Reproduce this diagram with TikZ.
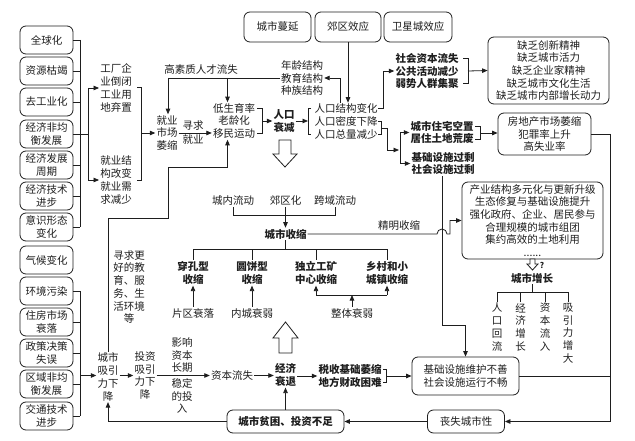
\documentclass[tikz,border=0pt]{standalone}
\usepackage{fontspec}
\setmainfont{Noto Sans CJK SC}
\usetikzlibrary{arrows.meta}
\definecolor{ink}{RGB}{30,30,30}
\begin{document}
\begin{tikzpicture}[x=1pt,y=-1pt,
  every node/.style={font=\fontsize{10.5}{12.7}\selectfont, text=ink, inner sep=1pt, align=center},
  box/.style={draw=ink, line width=0.8pt, rounded corners=6pt},
  lbox/.style={box, minimum width=53pt, minimum height=28pt},
  bt/.style={font=\fontsize{10.5}{12.7}\selectfont\bfseries},
  con/.style={draw=ink, line width=0.8pt},
  arr/.style={con, -{Triangle[length=5.5pt,width=4.5pt]}},
  hollow/.style={draw=ink, line width=0.8pt, fill=white}
]
\fill[white] (0,0) rectangle (635,441);
\useasboundingbox (0,0) rectangle (635,441);

% ---------- left column ----------
\node[lbox] (g1) at (46.5,40) {全球化};
\node[lbox] (g2) at (46.5,71) {资源枯竭};
\node[lbox] (g3) at (46.5,102) {去工业化};
\node[lbox] (g4) at (46.5,134) {经济非均\\衡发展};
\node[lbox] (g5) at (46.5,165) {经济发展\\周期};
\node[lbox] (g6) at (46.5,196) {经济技术\\进步};
\node[lbox] (g7) at (46.5,227) {意识形态\\变化};
\node[lbox] (g8) at (46.5,260) {气候变化};
\node[lbox] (g9) at (46.5,291) {环境污染};
\node[lbox] (g10) at (46.5,322) {住房市场\\衰落};
\node[lbox] (g11) at (46.5,353) {政策决策\\失误};
\node[lbox] (g12) at (46.5,384) {区域非均\\衡发展};
\node[lbox] (g13) at (46.5,416) {交通技术\\进步};

\coordinate (ba) at (80,134);
\coordinate (bb) at (88,134);
\foreach \n in {g1,g2,g3,g4,g5,g6,g7,g9,g10,g11,g12,g13}
  \draw[con] (\n.east) -- (\n.east -| ba);
\draw[con] (g1.east -| ba) -- (g7.east -| ba);
\draw[con] (ba) -- (bb);
\draw[con] (g9.east -| ba) -- (g13.east -| ba);

% ---------- employment ----------
\node (t1) at (116,88) {工厂企\\业倒闭\\工业用\\地弃置};
\node (t2) at (116,180) {就业结\\构改变\\就业需\\求减少};
\draw[con] (bb |- t1) -- (bb |- t2);
\draw[arr] (bb |- t1) -- (t1.west);
\draw[arr] (bb |- t2) -- (t2.west);
\draw[con] (137,87) -- (141,87) -- (141,180) -- (137,180);

\node (jy) at (167,133) {就业\\市场\\萎缩};
\draw[arr] (141,133) -- (jy.west);

\node (ds) at (234,121) {低生育率\\老龄化\\移民运动};
\draw[arr] (jy.east) -- (jy.east -| ds.west);
\node (xq1) at (193,125.5) {寻求};
\node (xq2) at (193,140) {就业};

\draw[con] (257,108.3) -- (262,108.3) -- (262,133.7) -- (257,133.7);
\node[bt] (rk) at (284,121) {人口\\衰减};
\draw[arr] (262,121) -- (rk.west);
\draw[arr] (rk.east) -- (308,121);
\draw[con] (311,108.8) -- (308,108.8) -- (308,134.2) -- (311,134.2);

\node (rs) at (346,121.5) {人口结构变化\\人口密度下降\\人口总量减少};

% top boxes
\node[box, minimum width=67pt, minimum height=30pt] (tm) at (277.5,27) {城市蔓延};
\node[box, minimum width=66pt, minimum height=30pt] (jq) at (348,27) {郊区效应};
\node[box, minimum width=68pt, minimum height=30pt] (wx) at (418,27) {卫星城效应};
\draw[arr] (jq.south) -- (jq.south |- rs.north);

\node (nj) at (302,78) {年龄结构\\教育结构\\种族结构};
\coordinate (p340) at (340,78);
\draw[arr] (p340 |- rs.north) -- (p340) -- (nj.east);

\node (hr) at (201,70) {高素质人才流失};
\coordinate (p168) at (168,78);
\coordinate (p228) at (227.5,78);
\draw[con] (nj.west) -- (p168);
\draw[arr] (p168) -- (p168 |- jy.north);
\draw[arr] (p228) -- (p228 |- ds.north);

% lower feedback to ds
\node (cs) at (108,377) {城市\\吸引\\力下\\降};
\draw[arr] (cs.north) |- (168,218) |- (227.5,167) -- (p228 |- ds.south);
\node (xq) at (129,287) {寻求更\\好的教\\育、服\\务、生\\活环境\\等};
\draw[arr] (ba |- 0,375.5) -- (cs.west |- 0,375.5);

% sz branch
\node[bt] (sz) at (427,71) {社会资本流失\\公共活动减少\\弱势人群集聚};
\draw[arr] (378,108.8) -- (383,108.8) -- (383,71) -- (sz.west);
\node[box, minimum width=121pt, minimum height=67pt] (qf) at (548.5,70.5) {缺乏创新精神\\缺乏城市活力\\缺乏企业家精神\\缺乏城市文化生活\\缺乏城市内部增长动力};
\draw[con] (463,58.3) -- (468,58.3) -- (468,83.7) -- (463,83.7);
\draw[arr] (468,71) -- (qf.west);

% density branch
\draw[con] (378,121.5) -- (381,121.5) -- (381,134.2) -- (378,134.2);
\draw[arr] (381,128) -- (387,128) -- (387,150) -- (399,150);
\node[bt] (ck) at (442,132.5) {城市住宅空置\\居住土地荒废};
\node[bt] (jc) at (443,163.5) {基础设施过剩\\社会设施过剩};
\coordinate (p400) at (400,150);
\draw[con] (p400 |- ck.west) -- (p400 |- jc.west);
\draw[arr] (p400 |- ck.west) -- (ck.west);
\draw[arr] (p400 |- jc.west) -- (jc.west);

\node[box, minimum width=93pt, minimum height=42pt] (fd) at (544.5,134) {房地产市场萎缩\\犯罪率上升\\高失业率};
\draw[con] (475,126.5) -- (480,126.5) -- (480,139.2) -- (475,139.2);
\draw[arr] (480,133) -- (fd.west |- 0,133);

% right big loop
\coordinate (rt) at (610,134);
\node[box, minimum width=107pt, minimum height=38pt] (jw) at (465.5,376) {基础设施维护不善\\社会设施运行不畅};
\node[box, minimum width=77pt, minimum height=23pt] (ss) at (466,421.5) {丧失城市性};
\node[box, bt, minimum width=117pt, minimum height=23pt] (pk) at (285.5,421.5) {城市贫困、投资不足};
\draw[con] (fd.east |- rt) -- (rt);
\draw[arr] (rt) |- (ss.east);
\draw[con] (jw.east) -- (jw.east -| rt);
\draw[arr] (ss.west) -- (pk.east);

% infrastructure line
\coordinate (jv) at (442,325);
\draw[arr] (jv |- jc.south) -- (jv) -- (jv -| jw.north) -- (jw.north);

% bottom chain
\node (tz) at (145,375.5) {投资\\吸引\\力下\\降};
\draw[arr] (cs.east |- tz.west) -- (tz.west);
\node[anchor=south] (yx1) at (182,374) {影响\\资本\\长期};
\node[anchor=north] (yx2) at (182,377.5) {稳定\\的投\\入};
\node (zb) at (232,375.5) {资本流失};
\draw[arr] (tz.east) -- (zb.west);
\node[bt] (jj) at (285.5,375) {经济\\衰退};
\draw[arr] (zb.east) -- (jj.west |- zb.east);
\node[bt] (sj) at (350,376) {税收基础萎缩\\地方财政困难};
\draw[arr] (jj.east |- sj.west) -- (sj.west);
\draw[con] (383,369.6) -- (386,369.6) -- (386,382.4) -- (383,382.4);
\draw[arr] (386,376) -- (jw.west);
\draw[arr] (pk.north) -- (jj.south);
\draw[arr] (pk.west) -| (cs.south);

% hollow arrows
\draw[hollow] (279,140) -- (291,140) -- (291,154) -- (297,154) -- (285,167) -- (273,154) -- (279,154) -- cycle;
\draw[hollow] (279,353) -- (292,353) -- (292,338) -- (298,338) -- (285.5,322) -- (273,338) -- (279,338) -- cycle;

% flows -> shrinking
\node (f1) at (233,201) {城内流动};
\node (f2) at (285.5,201) {郊区化};
\node (f3) at (335,201) {跨域流动};
\coordinate (fb) at (285.5,215);
\draw[con] (f1.south) -- (f1.south |- fb) -- (f3.south |- fb) -- (f3.south);
\draw[con] (f2.south) -- (fb);
\node[bt] (csz) at (285.5,234) {城市收缩};
\draw[arr] (fb) -- (csz.north);

\node[bt] (s1) at (193,273) {穿孔型\\收缩};
\node[bt] (s2) at (252,273) {圆饼型\\收缩};
\node[bt] (s3) at (316,273) {独立工矿\\中心收缩};
\node[bt] (s4) at (387,273) {乡村和小\\城镇收缩};
\coordinate (cb) at (285.5,249);
\draw[con] (csz.south) -- (cb);
\draw[con] (s1.north |- cb) -- (s4.north |- cb);
\foreach \n in {s1,s2,s3,s4} \draw[con] (\n.north |- cb) -- (\n.north);

\node (l1) at (193,313) {片区衰落};
\node (l2) at (252,313) {内城衰弱};
\node (l3) at (352,313) {整体衰弱};
\draw[arr] (l1.north) -- (s1.south);
\draw[arr] (l2.north) -- (s2.south);
\coordinate (zt) at (352,295);
\draw[arr] (l3.north) -- (zt);
\draw[con] (s3.south |- zt) -- (s4.south |- zt);
\draw[arr] (s3.south |- zt) -- (s3.south);
\draw[arr] (s4.south |- zt) -- (s4.south);

% smart shrinking
\node[box, minimum width=141pt, minimum height=77pt] (cy) at (532.5,220.5) {产业结构多元化与更新升级\\生态修复与基础设施提升\\强化政府、企业、居民参与\\合理规模的城市组团\\集约高效的土地利用\\......};
\node (jm) at (399,225.5) {精明收缩};
\draw[arr] (csz.east) -- (437,234) arc[start angle=180, end angle=360, radius=5] -- (450,234) -- (450,220.5) -- (cy.west);

% growth
\draw[hollow] (530,259) -- (535,259) -- (535,264) -- (538,264) -- (532.5,270) -- (527,264) -- (530,264) -- cycle;
\node[font=\fontsize{8}{9}\selectfont\bfseries] (qm) at (542,265) {?};
\node[bt] (cz) at (532,278) {城市增长};
\coordinate (zg) at (532,292);
\node[anchor=north] (v1) at (497,302) {人\\口\\回\\流};
\node[anchor=north] (v2) at (520.5,302) {经\\济\\增\\长};
\node[anchor=north] (v3) at (545,302) {资\\本\\流\\入};
\node[anchor=north] (v4) at (568,302) {吸\\引\\力\\增\\大};
\draw[con] (cz.south) -- (zg);
\draw[con] (v1.north |- zg) -- (v4.north |- zg);
\foreach \n in {v1,v2,v3,v4} \draw[con] (\n.north |- zg) -- (\n.north);
\end{tikzpicture}
\end{document}
